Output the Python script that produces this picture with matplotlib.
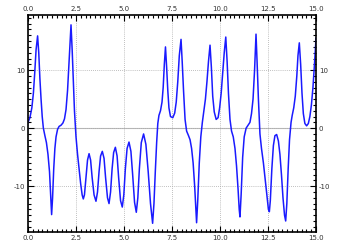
import numpy as np
import matplotlib.pyplot as plt
from matplotlib.ticker import MultipleLocator

# values (time, x)
t = [0.00, 0.10, 0.20, 0.28, 0.35, 0.42, 0.50, 0.56, 0.62, 0.68, 0.74, 0.80, 0.88, 0.96,
     1.04, 1.12, 1.18, 1.23, 1.28, 1.34, 1.40, 1.46, 1.54, 1.62, 1.72, 1.82, 1.90, 1.98,
     2.06, 2.14, 2.24, 2.30, 2.36, 2.42, 2.50, 2.58, 2.66, 2.74, 2.82, 2.88, 2.94, 3.02,
     3.10, 3.18, 3.26, 3.34, 3.44, 3.54, 3.62, 3.70, 3.78, 3.87, 3.96, 4.04, 4.14, 4.22,
     4.30, 4.38, 4.46, 4.55, 4.64, 4.72, 4.82, 4.91, 4.99, 5.07, 5.16, 5.26, 5.36, 5.45,
     5.55, 5.64, 5.72, 5.80, 5.90, 6.02, 6.14, 6.26, 6.38, 6.49, 6.56, 6.63, 6.70, 6.76,
     6.82, 6.90, 6.98, 7.04, 7.10, 7.16, 7.22, 7.28, 7.34, 7.42, 7.54, 7.64, 7.72, 7.80,
     7.88, 7.97, 8.03, 8.10, 8.18, 8.26, 8.36, 8.44, 8.52, 8.60, 8.68, 8.74, 8.78, 8.84,
     8.92, 9.00, 9.08, 9.16, 9.24, 9.32, 9.40, 9.48, 9.55, 9.62, 9.70, 9.80, 9.90, 9.98,
     10.06, 10.14, 10.22, 10.30, 10.37, 10.44, 10.52, 10.60, 10.69, 10.78, 10.86, 10.94,
     11.00, 11.04, 11.10, 11.18, 11.26, 11.36, 11.46, 11.56, 11.64, 11.72, 11.80, 11.875,
     11.93, 12.00, 12.08, 12.16, 12.26, 12.36, 12.44, 12.52, 12.57, 12.62, 12.70, 12.78,
     12.86, 12.95, 13.04, 13.12, 13.20, 13.28, 13.36, 13.42, 13.48, 13.55, 13.62, 13.70,
     13.76, 13.84, 13.92, 14.00, 14.06, 14.13, 14.20, 14.27, 14.34, 14.42, 14.51, 14.60,
     14.68, 14.76, 14.84, 14.92, 15.00]
x = [1.0, 1.8, 3.5, 6.0, 9.5, 13.5, 15.9, 13.0, 8.5, 5.0, 2.0, 0.0, -1.3, -2.5,
     -4.5, -7.5, -11.5, -14.9, -12.0, -7.0, -3.5, -1.5, -0.2, 0.3, 0.5, 0.9, 1.6, 3.2,
     6.5, 11.5, 17.8, 13.5, 8.0, 3.0, -1.5, -4.5, -7.0, -9.5, -11.5, -12.2, -11.5, -8.5,
     -5.5, -4.4, -5.5, -8.5, -11.5, -12.6, -11.0, -7.5, -4.8, -4.0, -5.2, -8.5, -12.0, -13.0,
     -11.0, -7.0, -4.2, -3.3, -4.8, -8.5, -12.5, -13.6, -11.5, -7.0, -3.5, -2.4, -4.0, -8.0,
     -12.8, -14.5, -12.0, -7.0, -2.5, -1.0, -2.8, -7.5, -13.0, -16.4, -13.0, -7.5, -2.5, 0.8,
     2.2, 3.0, 4.5, 7.0, 11.0, 14.0, 10.5, 6.5, 3.5, 2.0, 1.8, 2.6, 4.5, 8.0,
     12.5, 15.3, 11.5, 6.5, 1.5, -0.5, -1.3, -2.0, -3.5, -6.0, -10.0, -14.0, -16.3, -12.5,
     -6.0, -1.5, 1.0, 3.0, 5.0, 8.0, 11.5, 14.3, 10.5, 5.5, 2.8, 1.5, 1.8, 3.5,
     6.0, 9.5, 13.0, 15.7, 11.5, 6.0, 1.5, -0.5, -1.5, -3.5, -6.5, -10.5,
     -14.0, -15.3, -11.5, -5.0, -1.5, 0.0, 0.5, 1.0, 2.5, 5.0, 10.0, 16.2,
     11.5, 5.0, -1.0, -3.5, -6.0, -9.0, -11.5, -14.0, -14.4, -12.5, -7.0, -3.0,
     -1.3, -1.1, -2.2, -4.5, -8.0, -12.0, -15.0, -16.0, -13.0, -7.0, -2.0, 1.0,
     2.2, 3.5, 5.5, 9.0, 12.5, 14.7, 11.0, 6.0, 2.5, 0.8, 0.4, 0.8,
     2.0, 4.0, 7.0, 11.0, 15.5]

fig = plt.figure(figsize=(3.39, 2.47), dpi=100)
ax = fig.add_axes([0.0826, 0.0607, 0.8496, 0.8786])

ax.plot(t, x, color='#1a1aff', lw=1.1, solid_joinstyle='round')
ax.axhline(0, color='#bbbbbb', lw=0.8, zorder=0)

ax.set_xlim(0, 15)
ax.set_ylim(-17.9, 19.5)
ax.xaxis.set_major_locator(MultipleLocator(2.5))
ax.xaxis.set_minor_locator(MultipleLocator(0.25))
ax.yaxis.set_major_locator(MultipleLocator(10))
ax.yaxis.set_minor_locator(MultipleLocator(1))
ax.xaxis.set_major_formatter(lambda v, p: f'{v:.1f}')
ax.yaxis.set_major_formatter(lambda v, p: f'{v:.0f}')

ax.grid(True, which='major', color='#aaaaaa', ls=(0, (1, 1.5)), lw=0.6)
ax.tick_params(which='both', direction='in', top=True, right=True,
               labeltop=True, labelright=True, labelsize=5, labelcolor='#333333',
               width=0.8, pad=2)
ax.tick_params(which='major', length=4)
ax.tick_params(which='minor', length=2)
for s in ax.spines.values():
    s.set_linewidth(1.2)

fig.savefig('out.png', dpi=100)
